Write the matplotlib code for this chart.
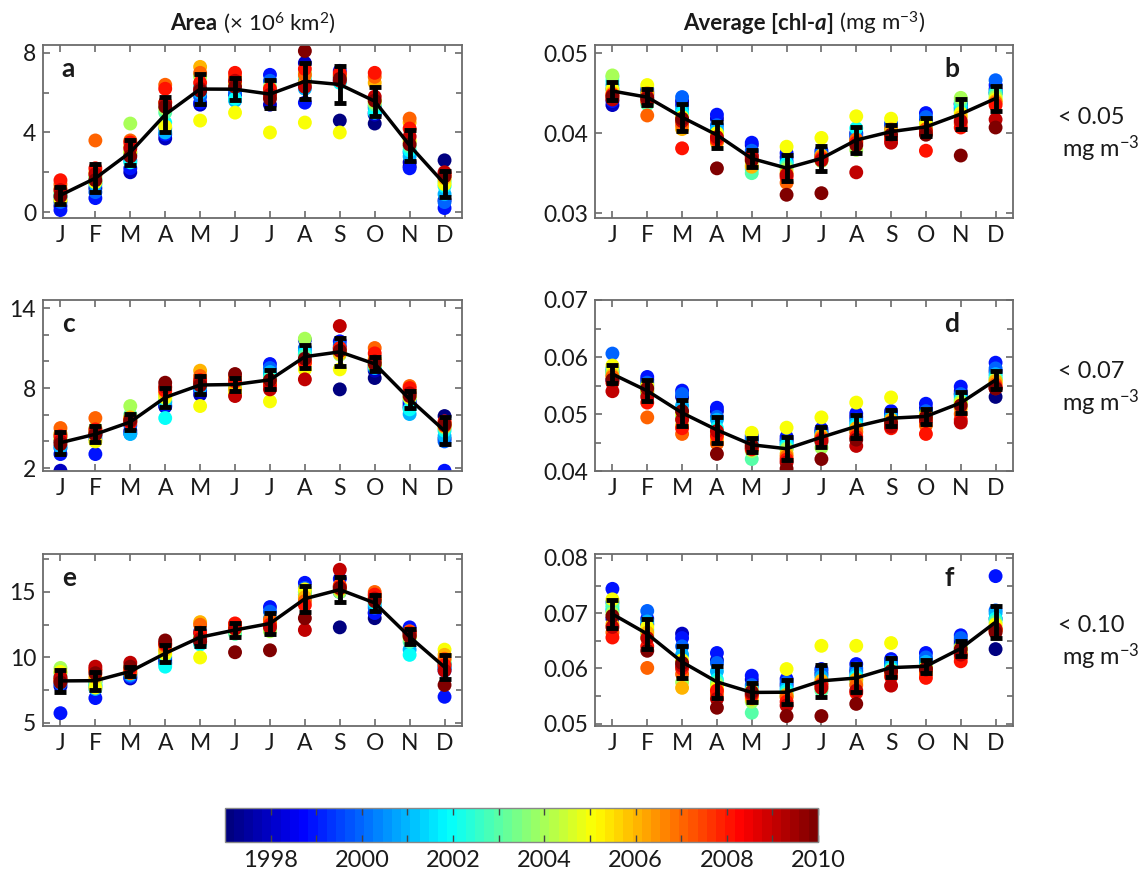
import numpy as np
import matplotlib
matplotlib.use("Agg")
import matplotlib.pyplot as plt
from matplotlib.colors import Normalize, LinearSegmentedColormap
from matplotlib.cm import ScalarMappable
from matplotlib.ticker import MultipleLocator, FixedLocator
from matplotlib.offsetbox import TextArea, HPacker, AnchoredOffsetbox

plt.rcParams["font.family"] = ["Lato", "DejaVu Sans"]
plt.rcParams["mathtext.fontset"] = "custom"
plt.rcParams["mathtext.rm"] = "Lato"
plt.rcParams["mathtext.it"] = "Lato:italic"
plt.rcParams["mathtext.bf"] = "Lato:bold"

nan = np.nan
months = ["J", "F", "M", "A", "M", "J", "J", "A", "S", "O", "N", "D"]
years = list(range(1997, 2011))

# one row per month, one column per year (1997 ... 2010); 1997 starts in September
area_005 = [
    [nan, 0.3, 0.1, 0.5, 0.7, 0.9, 0.8, 1.0, 0.6, 1.2, 1.4, 1.6, 1.1, 0.8],
    [nan, 1.2, 0.7, 1.0, 1.4, 1.5, 1.7, 1.8, 1.5, 2.0, 3.6, 2.2, 1.9, 1.6],
    [nan, 2.0, 2.2, 2.6, 2.9, 2.5, 3.0, 4.45, 3.0, 3.3, 3.6, 3.5, 3.2, 2.8],
    [nan, 3.7, 3.9, 4.2, 4.0, 4.5, 5.0, 5.2, 4.3, 5.5, 6.4, 6.2, 5.5, 5.3],
    [nan, 5.4, 5.5, 5.8, 6.0, 6.3, 6.9, 6.8, 4.6, 7.3, 7.0, 6.5, 6.2, 6.1],
    [nan, 5.9, 6.2, 6.0, 5.6, 5.7, 6.3, 6.4, 5.0, 6.5, 6.8, 7.0, 6.6, 6.3],
    [nan, 5.4, 6.9, 6.6, 6.2, 6.0, 6.1, 6.3, 4.0, 5.8, 6.0, 6.2, 5.9, 5.7],
    [nan, 7.5, 5.5, 6.6, 6.2, 6.4, 6.8, 7.0, 4.5, 6.5, 6.9, 7.2, 6.3, 8.1],
    [4.6, 6.6, 7.1, 6.8, 6.6, 6.5, 6.7, 6.9, 4.0, 6.8, 6.9, 7.0, 6.6, 6.7],
    [4.45, 4.9, 5.0, 5.3, 5.2, 5.0, 5.4, 5.5, 5.6, 6.5, 6.8, 7.0, 5.8, 5.6],
    [2.3, 2.5, 2.2, 3.0, 2.8, 3.1, 3.3, 3.5, 3.6, 4.5, 4.7, 4.2, 3.8, 3.4],
    [2.6, 0.6, 0.2, 0.5, 0.9, 1.3, 1.5, 1.6, 1.4, 1.7, 1.8, 1.9, 2.0, 1.8],
]
chl_005 = [
    [nan, 0.0435, 0.0440, 0.0455, 0.0460, 0.0465, 0.0470, 0.0472, 0.0455, 0.0450, 0.0445, 0.0448, 0.0442, 0.0446],
    [nan, 0.0448, 0.0452, 0.0455, 0.0450, 0.0442, 0.0436, 0.0440, 0.0460, 0.0450, 0.0422, 0.0440, 0.0445, 0.0443],
    [nan, 0.0440, 0.0435, 0.0445, 0.0430, 0.0425, 0.0418, 0.0415, 0.0420, 0.0405, 0.0410, 0.0381, 0.0415, 0.0418],
    [nan, 0.0418, 0.0423, 0.0410, 0.0405, 0.0400, 0.0398, 0.0395, 0.0400, 0.0388, 0.0390, 0.0392, 0.0395, 0.0356],
    [nan, 0.0385, 0.0388, 0.0378, 0.0372, 0.0355, 0.0350, 0.0360, 0.0365, 0.0358, 0.0368, 0.0370, 0.0372, 0.0366],
    [nan, 0.0370, 0.0375, 0.0365, 0.0360, 0.0362, 0.0358, 0.0355, 0.0383, 0.0350, 0.0338, 0.0345, 0.0348, 0.0323],
    [nan, 0.0372, 0.0378, 0.0375, 0.0370, 0.0368, 0.0366, 0.0365, 0.0394, 0.0372, 0.0370, 0.0368, 0.0366, 0.0325],
    [nan, 0.0400, 0.0395, 0.0398, 0.0392, 0.0406, 0.0390, 0.0379, 0.0421, 0.0390, 0.0392, 0.0388, 0.0351, 0.0385],
    [0.0403, 0.0405, 0.0410, 0.0412, 0.0400, 0.0398, 0.0402, 0.0400, 0.0418, 0.0405, 0.0395, 0.0392, 0.0388, 0.0398],
    [0.0418, 0.0415, 0.0425, 0.0420, 0.0412, 0.0408, 0.0405, 0.0410, 0.0412, 0.0400, 0.0405, 0.0378, 0.0402, 0.0398],
    [0.0436, 0.0437, 0.0432, 0.0428, 0.0430, 0.0435, 0.0440, 0.0444, 0.0425, 0.0420, 0.0412, 0.0407, 0.0415, 0.0372],
    [0.0450, 0.0455, 0.0460, 0.0466, 0.0452, 0.0450, 0.0448, 0.0445, 0.0442, 0.0440, 0.0438, 0.0435, 0.0417, 0.0407],
]
area_007 = [
    [nan, 1.8, 3.05, 3.5, 3.6, 4.0, 4.3, 4.5, 4.2, 4.6, 5.0, 4.4, 4.0, 3.8],
    [nan, 4.5, 3.05, 4.2, 4.4, 4.6, 4.8, 5.0, 4.0, 4.7, 5.75, 4.9, 4.6, 4.5],
    [nan, 4.8, 4.6, 5.2, 4.55, 5.5, 6.0, 6.65, 5.6, 5.8, 5.7, 5.4, 5.5, 5.6],
    [nan, 6.6, 6.7, 7.0, 6.9, 5.75, 7.2, 7.5, 7.3, 7.6, 8.0, 7.8, 8.1, 8.4],
    [nan, 7.5, 7.8, 8.2, 8.0, 8.3, 8.6, 8.5, 6.65, 9.3, 8.9, 8.6, 8.4, 8.2],
    [nan, 8.2, 8.6, 8.5, 8.3, 8.4, 8.2, 8.0, 7.6, 7.9, 8.8, 8.5, 7.4, 9.05],
    [nan, 9.0, 9.8, 9.5, 9.2, 8.9, 8.7, 8.5, 7.0, 8.4, 8.3, 8.2, 7.9, 8.6],
    [nan, 10.5, 11.6, 11.0, 10.8, 10.6, 10.4, 11.7, 9.4, 9.8, 10.0, 9.9, 8.65, 10.2],
    [7.9, 11.0, 11.5, 11.2, 11.0, 10.7, 10.9, 10.5, 9.4, 10.6, 10.8, 11.0, 12.65, 10.8],
    [8.75, 9.3, 9.5, 9.7, 9.5, 9.6, 9.8, 9.9, 9.7, 10.2, 11.0, 10.6, 10.0, 9.8],
    [6.8, 6.6, 7.0, 6.5, 6.05, 6.4, 7.2, 7.5, 7.3, 7.8, 8.15, 8.0, 7.6, 7.4],
    [5.9, 4.2, 1.8, 4.0, 4.4, 4.8, 5.0, 5.2, 5.3, 5.1, 5.4, 5.5, 5.2, 5.3],
]
chl_007 = [
    [nan, 0.0560, 0.0575, 0.0606, 0.0580, 0.0570, 0.0572, 0.0575, 0.0585, 0.0568, 0.0565, 0.0555, 0.0540, 0.0560],
    [nan, 0.0560, 0.0565, 0.0555, 0.0550, 0.0540, 0.0535, 0.0545, 0.0550, 0.0540, 0.0494, 0.0520, 0.0530, 0.0545],
    [nan, 0.0530, 0.0541, 0.0535, 0.0515, 0.0505, 0.0495, 0.0490, 0.0500, 0.0480, 0.0465, 0.0475, 0.0490, 0.0505],
    [nan, 0.0505, 0.0511, 0.0495, 0.0490, 0.0475, 0.0470, 0.0465, 0.0460, 0.0455, 0.0448, 0.0462, 0.0470, 0.0430],
    [nan, 0.0455, 0.0462, 0.0458, 0.0450, 0.0440, 0.0421, 0.0435, 0.0467, 0.0445, 0.0440, 0.0438, 0.0442, 0.0445],
    [nan, 0.0455, 0.0460, 0.0452, 0.0448, 0.0445, 0.0440, 0.0438, 0.0476, 0.0430, 0.0425, 0.0420, 0.0415, 0.0404],
    [nan, 0.0470, 0.0474, 0.0468, 0.0465, 0.0460, 0.0450, 0.0441, 0.0494, 0.0462, 0.0458, 0.0455, 0.0452, 0.0421],
    [nan, 0.0495, 0.0501, 0.0490, 0.0485, 0.0480, 0.0475, 0.0470, 0.0520, 0.0475, 0.0468, 0.0460, 0.0444, 0.0455],
    [0.0497, 0.0500, 0.0505, 0.0498, 0.0495, 0.0490, 0.0488, 0.0485, 0.0529, 0.0490, 0.0482, 0.0475, 0.0478, 0.0485],
    [0.0505, 0.0510, 0.0518, 0.0505, 0.0500, 0.0498, 0.0495, 0.0492, 0.0500, 0.0490, 0.0480, 0.0465, 0.0488, 0.0495],
    [0.0535, 0.0540, 0.0548, 0.0535, 0.0530, 0.0525, 0.0520, 0.0522, 0.0518, 0.0510, 0.0500, 0.0490, 0.0485, 0.0515],
    [0.0530, 0.0575, 0.0590, 0.0580, 0.0570, 0.0565, 0.0562, 0.0560, 0.0555, 0.0558, 0.0552, 0.0548, 0.0545, 0.0545],
]
area_010 = [
    [nan, 7.8, 5.75, 8.0, 8.3, 8.5, 8.8, 9.2, 8.9, 8.4, 8.2, 8.3, 8.5, 8.1],
    [nan, 8.2, 6.9, 7.8, 7.6, 7.9, 8.0, 8.2, 7.7, 8.5, 9.0, 9.1, 9.3, 8.8],
    [nan, 8.4, 8.5, 8.6, 8.7, 8.8, 9.2, 9.3, 8.9, 9.0, 8.8, 9.1, 9.6, 9.3],
    [nan, 9.8, 9.6, 10.0, 9.5, 9.3, 10.2, 10.5, 10.3, 10.6, 10.9, 11.0, 11.1, 11.3],
    [nan, 11.2, 11.8, 12.0, 11.5, 11.0, 11.3, 11.6, 10.0, 12.7, 12.5, 11.9, 11.4, 11.2],
    [nan, 12.0, 12.5, 12.3, 12.2, 12.0, 11.8, 12.1, 12.4, 12.3, 12.5, 12.6, 12.2, 10.4],
    [nan, 12.8, 13.85, 13.5, 13.0, 12.8, 12.2, 12.0, 12.6, 12.7, 12.9, 12.5, 12.3, 10.55],
    [nan, 15.0, 15.7, 15.3, 14.8, 14.5, 14.8, 15.0, 15.2, 14.6, 14.3, 14.0, 12.1, 13.0],
    [12.3, 15.0, 16.0, 15.4, 15.2, 15.0, 15.1, 15.0, 15.4, 15.2, 15.5, 15.4, 16.7, 15.3],
    [13.0, 13.4, 13.4, 13.8, 14.0, 14.2, 14.3, 14.4, 14.5, 14.7, 15.0, 14.8, 14.5, 14.3],
    [11.9, 12.0, 12.3, 11.8, 10.6, 10.2, 11.2, 11.5, 11.6, 11.8, 12.0, 11.9, 11.7, 11.6],
    [9.5, 9.2, 7.0, 9.0, 9.2, 9.4, 9.6, 9.8, 10.6, 10.2, 9.9, 9.4, 9.0, 7.9],
]
chl_010 = [
    [nan, 0.0690, 0.0744, 0.0720, 0.0705, 0.0710, 0.0715, 0.0700, 0.0725, 0.0680, 0.0665, 0.0656, 0.0675, 0.0695],
    [nan, 0.0680, 0.0690, 0.0704, 0.0685, 0.0670, 0.0660, 0.0655, 0.0675, 0.0665, 0.0601, 0.0640, 0.0655, 0.0632],
    [nan, 0.0663, 0.0655, 0.0640, 0.0625, 0.0610, 0.0600, 0.0575, 0.0615, 0.0565, 0.0590, 0.0600, 0.0605, 0.0610],
    [nan, 0.0615, 0.0628, 0.0610, 0.0595, 0.0580, 0.0575, 0.0570, 0.0565, 0.0560, 0.0553, 0.0560, 0.0545, 0.0529],
    [nan, 0.0580, 0.0587, 0.0570, 0.0565, 0.0555, 0.0520, 0.0540, 0.0560, 0.0545, 0.0550, 0.0552, 0.0555, 0.0558],
    [nan, 0.0570, 0.0581, 0.0575, 0.0565, 0.0560, 0.0555, 0.0550, 0.0599, 0.0552, 0.0548, 0.0540, 0.0533, 0.0514],
    [nan, 0.0590, 0.0599, 0.0595, 0.0585, 0.0575, 0.0560, 0.0565, 0.0641, 0.0578, 0.0572, 0.0570, 0.0565, 0.0514],
    [nan, 0.0595, 0.0608, 0.0600, 0.0590, 0.0585, 0.0580, 0.0575, 0.0641, 0.0580, 0.0570, 0.0556, 0.0560, 0.0536],
    [0.0605, 0.0610, 0.0617, 0.0612, 0.0605, 0.0600, 0.0598, 0.0595, 0.0646, 0.0595, 0.0590, 0.0585, 0.0569, 0.0595],
    [0.0610, 0.0615, 0.0628, 0.0620, 0.0612, 0.0605, 0.0600, 0.0598, 0.0602, 0.0595, 0.0590, 0.0583, 0.0598, 0.0600],
    [0.0645, 0.0650, 0.0660, 0.0655, 0.0640, 0.0635, 0.0630, 0.0632, 0.0638, 0.0628, 0.0620, 0.0613, 0.0625, 0.0635],
    [0.0635, 0.0690, 0.0767, 0.0705, 0.0700, 0.0690, 0.0685, 0.0675, 0.0680, 0.0670, 0.0668, 0.0672, 0.0670, 0.0665],
]

panel_letters = ["a", "b", "c", "d", "e", "f"]
threshold_labels = ["< 0.05", "< 0.07", "< 0.10"]
cbar_ticks = [1998, 2000, 2002, 2004, 2006, 2008, 2010]

TXT = "#1a1a1a"
SPINE = "#6b6b6b"
W, H = 1148, 875

# MATLAB-style jet (yellow at 5/8, cyan at 3/8)
matlab_jet = LinearSegmentedColormap.from_list(
    "matlab_jet",
    [(0.0, (0, 0, 0.5)), (0.125, (0, 0, 1)), (0.375, (0, 1, 1)),
     (0.625, (1, 1, 0)), (0.875, (1, 0, 0)), (1.0, (0.5, 0, 0))],
    N=64,
)
norm = Normalize(1997, 2010)


def rect(left, top, right, bottom):
    return [left / W, 1 - bottom / H, (right - left) / W, (bottom - top) / H]


fig = plt.figure(figsize=(W / 100, H / 100), dpi=100)

# panel settings: data, ylim, major ticks, minor step, tick format
panels = [
    (area_005, (-0.3, 8.4), [0, 4, 8], 2, "{:g}"),
    (chl_005, (0.0294, 0.0510), [0.03, 0.04, 0.05], 0.01, "{:.2f}"),
    (area_007, (1.78, 14.6), [2, 8, 14], 2, "{:g}"),
    (chl_007, (0.04, 0.07), [0.04, 0.05, 0.06, 0.07], 0.005, "{:.2f}"),
    (area_010, (4.77, 17.9), [5, 10, 15], 2.5, "{:g}"),
    (chl_010, (0.0496, 0.0807), [0.05, 0.06, 0.07, 0.08], 0.005, "{:.2f}"),
]
rows_px = [(45, 218), (300, 471), (554, 726)]
cols_px = [(43, 462), (595, 1013)]

x = np.arange(1, 13)

for i, (data, ylim, major, minor, fmt) in enumerate(panels):
    r, c = divmod(i, 2)
    top, bottom = rows_px[r]
    left, right = cols_px[c]
    ax = fig.add_axes(rect(left, top, right, bottom))
    arr = np.array(data, dtype=float)

    for j, year in enumerate(years):
        ax.scatter(x, arr[:, j], c=np.full(12, year), cmap=matlab_jet, norm=norm,
                   s=100, linewidths=0, zorder=2)

    mean = np.nanmean(arr, axis=1)
    std = np.nanstd(arr, axis=1, ddof=1)
    ax.plot(x, mean, color="black", lw=2.5, zorder=3)
    ax.errorbar(x, mean, yerr=std, fmt="none", ecolor="black", elinewidth=3.5,
                capsize=4.5, capthick=3.5, zorder=4)

    ax.set_xlim(0.5, 12.5)
    ax.set_ylim(*ylim)
    ax.set_xticks(x)
    ax.set_xticklabels(months)
    ax.set_yticks(major)
    ax.set_yticklabels([fmt.format(v) for v in major])
    ax.yaxis.set_minor_locator(MultipleLocator(minor))
    ax.tick_params(which="both", direction="in", top=True, right=True,
                   color=SPINE, width=1.2, labelsize=16.5, labelcolor=TXT)
    ax.tick_params(which="major", length=5, pad=5)
    ax.tick_params(which="minor", length=4)
    for s in ax.spines.values():
        s.set_color(SPINE)
        s.set_linewidth(1.3)

    if c == 0:
        ax.text(0.045, 0.86, panel_letters[i], transform=ax.transAxes,
                fontsize=19, fontweight="bold", color=TXT, va="center")
    else:
        ax.text(0.835, 0.86, panel_letters[i], transform=ax.transAxes,
                fontsize=19, fontweight="bold", color=TXT, va="center")
        yc = (top + bottom) / 2
        fig.text(1058 / W, 1 - (yc - 14) / H, threshold_labels[r],
                 fontsize=17, color=TXT, va="center", ha="left")
        fig.text(1062 / W, 1 - (yc + 17) / H, "mg m$^{-3}$",
                 fontsize=17, color=TXT, va="center", ha="left")


def title_row(parts, xc, yc):
    boxes = [TextArea(s, textprops=dict(fontsize=16, fontweight=w, fontstyle=st, color=TXT))
             for s, w, st in parts]
    row = HPacker(children=boxes, align="baseline", pad=0, sep=0)
    box = AnchoredOffsetbox(loc="center", child=row, pad=0, borderpad=0, frameon=False,
                            bbox_to_anchor=(xc / W, 1 - yc / H),
                            bbox_transform=fig.transFigure)
    fig.add_artist(box)


title_row([("Area", "bold", "normal"),
           (" (\u00d7 10$^{6}$ km$^{2}$)", "normal", "normal")], 253, 23)
title_row([("Average [chl-", "bold", "normal"),
           ("a", "bold", "italic"),
           ("]", "bold", "normal"),
           (" (mg m$^{-3}$)", "normal", "normal")], 804, 23)

# colour bar
cax = fig.add_axes(rect(225, 808, 818, 842))
sm = ScalarMappable(norm=norm, cmap=matlab_jet)
cb = fig.colorbar(sm, cax=cax, orientation="horizontal")
cb.set_ticks(cbar_ticks)
cb.set_ticklabels([str(t) for t in cbar_ticks])
cax.xaxis.set_minor_locator(FixedLocator(years[1:-1]))
cax.tick_params(which="both", direction="in", top=True, bottom=True,
                color="#444444", width=1, labelsize=17, labelcolor=TXT, pad=6)
cax.tick_params(which="major", length=5)
cax.tick_params(which="minor", length=5)
cb.outline.set_edgecolor("#888888")
cb.outline.set_linewidth(1)

fig.savefig("out.png", dpi=100)
